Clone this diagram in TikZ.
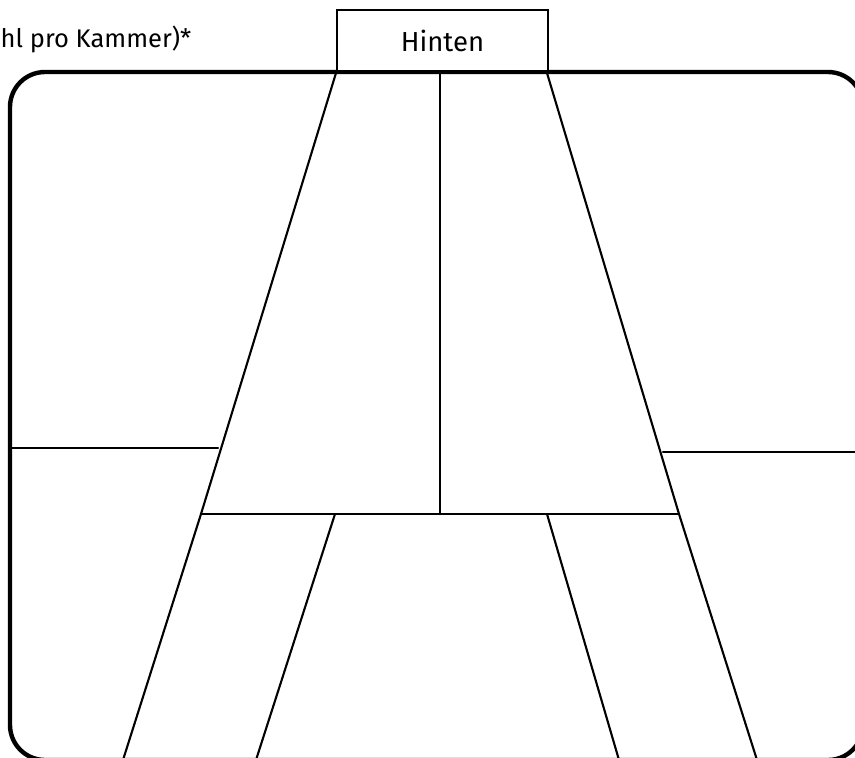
\documentclass[tikz,border=0pt]{standalone}
\usepackage{fontspec}
\setmainfont{Fira Sans}
\begin{document}
\begin{tikzpicture}[x=1pt,y=-1pt,
  frame/.style={line width=4.4pt, rounded corners=35pt},
  wall/.style={line width=2.1pt, line cap=round},
  tab/.style={draw, line width=2pt, minimum width=211pt, minimum height=61pt, inner sep=0pt, font=\fontsize{27.5}{30}\selectfont},
  note/.style={anchor=base west, inner sep=0pt, font=\fontsize{25.5}{30}\selectfont}]
\useasboundingbox (0,0) rectangle (855,758);
% labels
\node[note] (lbl) at (0.5,47) {hl pro Kammer)*};
% key points
\coordinate (tl) at (336,73);
\coordinate (tr) at (547,73);
\coordinate (tc) at (440,73);
\coordinate (ml) at (201,514);
\coordinate (mr) at (679,514);
\coordinate (mc) at (440,514);
\coordinate (bl) at (123,760);
\coordinate (br) at (757,760);
\coordinate (il) at (335,514);
\coordinate (ilb) at (256,760);
\coordinate (ir) at (547,514);
\coordinate (irb) at (619,760);
\coordinate (hl1) at (10,448);
\coordinate (hl2) at (218,448);
\coordinate (hr1) at (663,452);
\coordinate (hr2) at (862,452);
% walls
\draw[wall] (tl) -- (ml) -- (bl);
\draw[wall] (tr) -- (mr) -- (br);
\draw[wall] (tc) -- (mc);
\draw[wall] (ml) -- (mr);
\draw[wall] (il) -- (ilb);
\draw[wall] (ir) -- (irb);
\draw[wall] (hl1) -- (hl2);
\draw[wall] (hr1) -- (hr2);
% frame
\draw[frame] (10,72) rectangle (863,760);
% tab
\node[tab, fill=white, anchor=south west] (hinten) at (336,72) {Hinten};
\end{tikzpicture}
\end{document}
